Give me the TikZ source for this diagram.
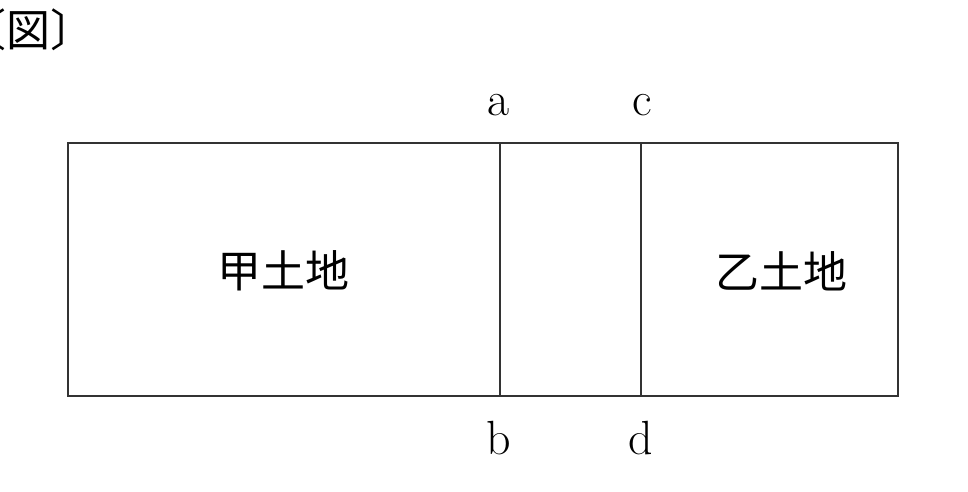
\documentclass[tikz,border=0pt]{standalone}
\usepackage{fontspec}
\newfontfamily\cjk{Noto Sans CJK JP}
\begin{document}
\begin{tikzpicture}[
      x=1pt, y=-1pt,
      every node/.style={inner sep=0pt, font=\fontsize{44}{44}\selectfont},
      landname/.style={font=\cjk\fontsize{44}{44}\selectfont},
      ptlabel/.style={font=\fontsize{48}{48}\selectfont},
      boundary/.style={draw=black!80, line width=1.3pt}
    ]
    \useasboundingbox (0,0) rectangle (968,492);

    \node[landname] (title) at (29,30) {〔図〕};

    \coordinate (nw) at (68,143);
    \coordinate (se) at (898,396);
    \coordinate (a) at (500,143);
    \coordinate (b) at (500,396);
    \coordinate (c) at (641,143);
    \coordinate (d) at (641,396);

    \draw[boundary] (nw) rectangle (se);
    \draw[boundary] (a) -- (b);
    \draw[boundary] (c) -- (d);

    \node[ptlabel, anchor=base] (la) at (499,115) {a};
    \node[ptlabel, anchor=base] (lc) at (642,115) {c};
    \node[ptlabel, anchor=base] (lb) at (499,454) {b};
    \node[ptlabel, anchor=base] (ld) at (641,454) {d};

    \node[landname] (kou) at (283,271) {甲土地};
    \node[landname] (otsu) at (781,271) {乙土地};

\end{tikzpicture}
\end{document}
